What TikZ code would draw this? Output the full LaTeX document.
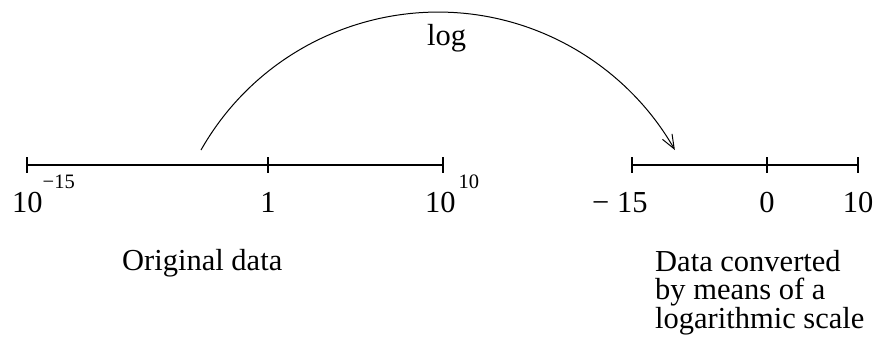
\documentclass[tikz,border=0pt]{standalone}
\usepackage{fontspec}
\setmainfont{Liberation Serif}
\usetikzlibrary{arrows.meta}
\begin{document}
\begin{tikzpicture}[x=1pt,y=-1pt,
  axisline/.style={line width=1.2pt},
  lbl/.style={inner sep=0pt, font=\fontsize{30.5}{36}\selectfont},
  captext/.style={inner sep=0pt, anchor=base west, align=left, font=\fontsize{30.5}{28.5}\selectfont}]
\useasboundingbox (0,0) rectangle (882,340);
% left axis
\coordinate (L0) at (27,165);
\coordinate (L1) at (268,165);
\coordinate (L2) at (443,165);
\draw[axisline] (L0) -- (L2);
\foreach \p in {L0,L1,L2}
  \draw[axisline] ([yshift=8pt]\p) -- ([yshift=-8pt]\p);
% right axis
\coordinate (R0) at (632,165);
\coordinate (R1) at (767,165);
\coordinate (R2) at (858,165);
\draw[axisline] (R0) -- (R2);
\foreach \p in {R0,R1,R2}
  \draw[axisline] ([yshift=8pt]\p) -- ([yshift=-8pt]\p);
% tick labels
\node[lbl, anchor=base west] (tl0) at (12,212) {10\raisebox{24pt}{\fontsize{20.5}{22}\selectfont −15}};
\node[lbl, anchor=base] (tl1) at (268,212) {1};
\node[lbl, anchor=base west] (tl2) at (425,212) {10\kern3pt\raisebox{24pt}{\fontsize{20.5}{22}\selectfont 10}};
\node[lbl, anchor=base west] (tr0) at (592,212) {− 15};
\node[lbl, anchor=base] (tr1) at (767,212) {0};
\node[lbl, anchor=base] (tr2) at (858,212) {10};
% captions
\node[captext] (c1) at (122,270) {Original data};
\node[captext] (c2) at (655,328) {Data converted\\by means of a\\logarithmic scale};
% arc
\coordinate (A) at (201,150);
\draw[line width=1pt, -{Straight Barb[length=14pt,width=11pt]}] (A) arc[start angle=209.6, end angle=330.4, radius=272.5];
\node[lbl, anchor=base west] (lg) at (427,45) {log};
\end{tikzpicture}
\end{document}
